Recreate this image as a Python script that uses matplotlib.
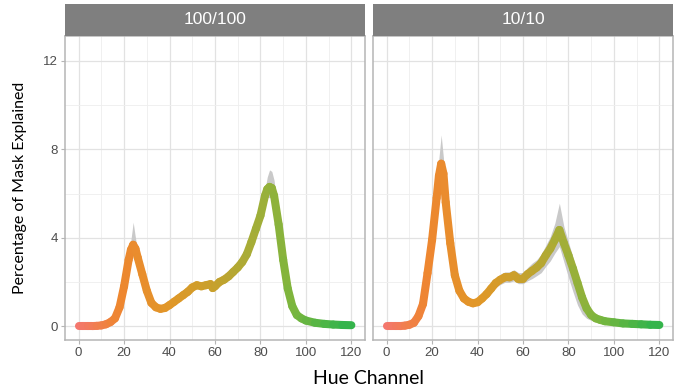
import matplotlib
matplotlib.use('Agg')
import matplotlib.pyplot as plt
import numpy as np
from matplotlib.collections import LineCollection
from matplotlib.colors import LinearSegmentedColormap

# facet titles
panels = ['100/100', '10/10']

# 100/100 panel
x_100 = [0, 2, 4, 6, 8, 10, 12, 14, 16, 18, 20, 22, 23, 24, 25, 26, 28, 30, 32, 34, 36, 38, 40,
         42, 44, 46, 48, 50, 52, 54, 56, 58, 59, 60, 62, 64, 66, 68, 70, 72, 74, 76, 78, 80, 82,
         83, 84, 85, 86, 88, 90, 92, 94, 96, 98, 100, 104, 108, 112, 116, 120]
y_100 = [0, 0, 0, 0, 0.01, 0.03, 0.08, 0.18, 0.35, 0.85, 1.8, 3.0, 3.45, 3.68, 3.5, 3.1, 2.35, 1.6,
         1.05, 0.85, 0.78, 0.82, 0.95, 1.1, 1.25, 1.4, 1.55, 1.75, 1.85, 1.8, 1.85, 1.9, 1.72, 1.8,
         2.0, 2.1, 2.25, 2.45, 2.65, 2.9, 3.25, 3.8, 4.4, 5.0, 5.9, 6.2, 6.3, 6.25, 5.9, 4.6, 3.0,
         1.7, 0.9, 0.5, 0.35, 0.25, 0.15, 0.1, 0.07, 0.05, 0.04]
lo_100 = [0, 0, 0, 0, 0, 0.01, 0.05, 0.12, 0.28, 0.72, 1.6, 2.7, 3.1, 3.2, 3.2, 2.85, 2.15, 1.45,
          0.95, 0.78, 0.7, 0.74, 0.87, 1.02, 1.16, 1.3, 1.45, 1.62, 1.72, 1.68, 1.72, 1.76, 1.6, 1.66,
          1.86, 1.96, 2.1, 2.3, 2.48, 2.72, 3.05, 3.6, 4.2, 4.8, 5.6, 5.85, 5.8, 5.85, 5.6, 4.35, 2.8,
          1.55, 0.8, 0.42, 0.3, 0.21, 0.12, 0.08, 0.05, 0.03, 0.02]
hi_100 = [0.01, 0.01, 0.01, 0.01, 0.02, 0.05, 0.11, 0.24, 0.42, 0.98, 2.0, 3.3, 3.9, 4.7, 4.0, 3.35,
          2.55, 1.75, 1.15, 0.92, 0.86, 0.9, 1.03, 1.18, 1.34, 1.5, 1.65, 1.88, 1.98, 1.92, 1.98,
          2.04, 1.86, 1.94, 2.14, 2.24, 2.4, 2.6, 2.82, 3.08, 3.45, 4.0, 4.6, 5.2, 6.2, 6.75, 7.07,
          7.0, 6.6, 4.9, 3.2, 1.85, 1.0, 0.58, 0.4, 0.29, 0.18, 0.12, 0.09, 0.07, 0.06]

# 10/10 panel
x_10 = [0, 2, 4, 6, 8, 10, 12, 14, 16, 18, 20, 22, 23, 24, 25, 26, 28, 30, 32, 34, 36, 38, 40,
        42, 44, 46, 48, 50, 52, 54, 56, 58, 60, 62, 64, 66, 68, 70, 72, 74, 76, 78, 80, 82, 84,
        86, 88, 90, 92, 94, 96, 100, 104, 108, 112, 116, 120]
y_10 = [0, 0, 0, 0, 0.02, 0.06, 0.15, 0.45, 1.0, 2.4, 3.9, 5.8, 6.8, 7.35, 6.9, 5.6, 3.75, 2.3,
        1.6, 1.25, 1.1, 1.03, 1.08, 1.25, 1.45, 1.7, 1.95, 2.1, 2.2, 2.2, 2.3, 2.15, 2.15, 2.35,
        2.5, 2.65, 2.85, 3.2, 3.5, 3.9, 4.35, 3.75, 3.2, 2.6, 1.95, 1.3, 0.8, 0.5, 0.35, 0.28,
        0.22, 0.17, 0.12, 0.1, 0.08, 0.06, 0.05]
lo_10 = [0, 0, 0, 0, 0, 0.02, 0.1, 0.35, 0.85, 2.1, 3.5, 5.2, 6.1, 6.4, 6.2, 5.1, 3.4, 2.1, 1.45,
         1.12, 0.98, 0.92, 0.97, 1.12, 1.3, 1.52, 1.75, 1.88, 1.98, 1.98, 2.05, 1.92, 1.92, 2.05,
         2.15, 2.28, 2.42, 2.7, 2.95, 3.3, 3.6, 2.9, 2.2, 1.55, 0.95, 0.55, 0.35, 0.26, 0.22, 0.2,
         0.17, 0.13, 0.09, 0.07, 0.05, 0.04, 0.03]
hi_10 = [0.01, 0.01, 0.01, 0.01, 0.04, 0.1, 0.2, 0.55, 1.15, 2.7, 4.3, 6.4, 7.6, 8.65, 7.6, 6.1,
         4.1, 2.5, 1.75, 1.38, 1.22, 1.15, 1.2, 1.38, 1.6, 1.88, 2.15, 2.35, 2.45, 2.45, 2.55,
         2.42, 2.42, 2.65, 2.85, 3.0, 3.25, 3.65, 4.05, 4.65, 5.56, 4.5, 3.8, 3.1, 2.4, 1.65, 1.05,
         0.65, 0.45, 0.34, 0.27, 0.21, 0.15, 0.13, 0.11, 0.08, 0.07]

series = [(x_100, y_100, lo_100, hi_100), (x_10, y_10, lo_10, hi_10)]

x_ticks = [0, 20, 40, 60, 80, 100, 120]
y_ticks = [0, 4, 8, 12]

hue_cmap = LinearSegmentedColormap.from_list('hue', [
    (0.0, '#F47670'), (0.15, '#EE8630'), (0.35, '#E09828'), (0.5, '#C8A02C'),
    (0.65, '#A4AE38'), (0.8, '#78B63E'), (1.0, '#2EB44C')])

fig = plt.figure(figsize=(6.78, 3.9), dpi=100)

lefts = [65 / 678, 373 / 678]
w = 300 / 678
bottom = 1 - 340 / 390
h = (340 - 36) / 390

for i, (title, (xs, ys, lo, hi)) in enumerate(zip(panels, series)):
    ax = fig.add_axes([lefts[i], bottom, w, h])
    ax.set_xlim(-6, 126)
    ax.set_ylim(-0.63, 13.13)
    ax.fill_between(xs, lo, hi, color='#C9C9C9', lw=0, zorder=2)

    pts = np.column_stack([xs, ys])
    segs = np.stack([pts[:-1], pts[1:]], axis=1)
    mids = (np.array(xs[:-1]) + np.array(xs[1:])) / 2
    lc = LineCollection(segs, colors=hue_cmap(mids / 120), linewidths=5.8,
                        capstyle='round', joinstyle='round', zorder=3)
    ax.add_collection(lc)

    ax.set_xticks(x_ticks)
    ax.set_xticks([10, 30, 50, 70, 90, 110], minor=True)
    ax.set_yticks(y_ticks)
    ax.set_yticks([2, 6, 10], minor=True)
    ax.grid(which='major', color='#E2E2E2', lw=0.9, zorder=0)
    ax.grid(which='minor', color='#EEEEEE', lw=0.6, zorder=0)
    ax.set_axisbelow(True)
    for s in ax.spines.values():
        s.set_color('#B5B5B5')
        s.set_linewidth(1.1)
    ax.tick_params(which='minor', length=0)
    ax.tick_params(which='major', colors='#B5B5B5', labelcolor='#4D4D4D', length=3,
                   width=0.8, pad=2, labelsize=9.5)
    for lab in ax.get_xticklabels() + ax.get_yticklabels():
        lab.set_fontfamily('Liberation Sans')
    if i == 1:
        ax.tick_params(axis='y', left=False, labelleft=False)

    sax = fig.add_axes([lefts[i], 1 - 36 / 390, w, 32 / 390])
    sax.set_facecolor('#7F7F7F')
    sax.set_xticks([])
    sax.set_yticks([])
    for s in sax.spines.values():
        s.set_visible(False)
    sax.text(0.5, 0.5, title, color='white', ha='center', va='center', fontsize=12.5,
             family='Liberation Sans', transform=sax.transAxes)

fig.text(0.03, 1 - 188 / 390, 'Percentage of Mask Explained', rotation=90, ha='center',
         va='center', fontsize=11.5, family='Lato', color='black')
fig.text((65 + 673) / 2 / 678, 1 - 378 / 390, 'Hue Channel', ha='center', va='center',
         fontsize=14, family='Lato', color='black')

fig.savefig('out.png', dpi=100)
